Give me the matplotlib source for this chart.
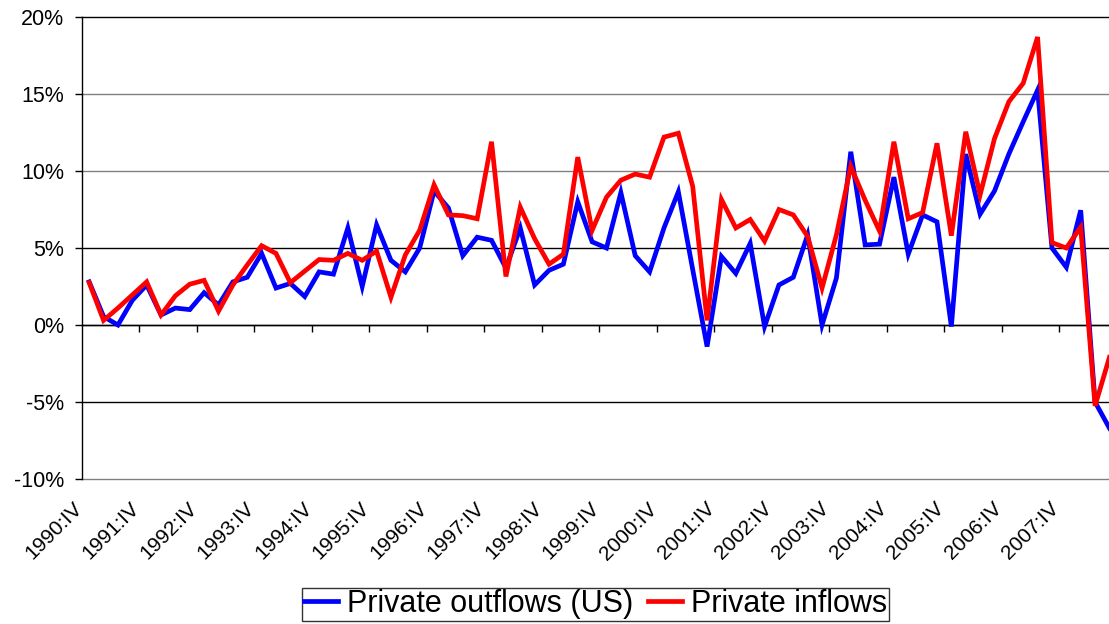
import numpy as np
import matplotlib
matplotlib.use('Agg')
import matplotlib.pyplot as plt
from matplotlib.transforms import ScaledTranslation

plt.rcParams['font.family'] = ['Liberation Sans', 'DejaVu Sans']

# quarterly growth, 1990:IV .. 2008:III (percent)
outflows = [2.8, 0.55, 0.0, 1.6, 2.6, 0.65, 1.1, 1.0, 2.1, 1.3,
            2.8, 3.1, 4.65, 2.4, 2.7, 1.85, 3.45, 3.3, 6.3, 2.5,
            6.5, 4.2, 3.45, 5.0, 8.7, 7.6, 4.5, 5.7, 5.5, 3.7,
            6.3, 2.6, 3.55, 3.95, 8.0, 5.4, 5.0, 8.6, 4.5, 3.45,
            6.3, 8.65, 3.6, -1.4, 4.45, 3.35, 5.3, -0.1, 2.6, 3.1,
            5.85, 0.0, 3.05, 11.25, 5.2, 5.25, 9.6, 4.6, 7.15, 6.7,
            -0.1, 11.1, 7.2, 8.7, 11.1, 13.2, 15.25, 5.0, 3.75, 7.45,
            -5.0, -6.7]
inflows = [2.75, 0.3, 1.1, 1.95, 2.8, 0.65, 1.9, 2.65, 2.9, 0.9,
           2.6, 3.9, 5.15, 4.65, 2.75, 3.5, 4.25, 4.2, 4.65, 4.2,
           4.8, 1.8, 4.55, 6.15, 9.1, 7.15, 7.1, 6.9, 11.9, 3.15,
           7.65, 5.6, 3.95, 4.6, 10.9, 6.15, 8.3, 9.4, 9.8, 9.6,
           12.2, 12.45, 9.0, 0.3, 8.15, 6.3, 6.85, 5.45, 7.5, 7.15,
           5.75, 2.4, 5.85, 10.3, 8.1, 6.1, 11.9, 6.9, 7.3, 11.8,
           5.8, 12.55, 8.45, 12.1, 14.5, 15.7, 18.7, 5.35, 5.0, 6.35,
           -5.25, -2.1]
tick_labels = ['1990:IV', '1991:IV', '1992:IV', '1993:IV', '1994:IV', '1995:IV',
               '1996:IV', '1997:IV', '1998:IV', '1999:IV', '2000:IV', '2001:IV',
               '2002:IV', '2003:IV', '2004:IV', '2005:IV', '2006:IV', '2007:IV']
y_ticks = [-10, -5, 0, 5, 10, 15, 20]

x = np.arange(len(outflows))

fig = plt.figure(figsize=(11.09, 6.24), dpi=100)
ax = fig.add_axes([82 / 1109, 145 / 624, 1 - 82 / 1109, 462 / 624])

ax.plot(x, outflows, color='#0000FF', lw=3.4, label='Private outflows (US)', solid_joinstyle='miter')
ax.plot(x, inflows, color='#FF0000', lw=3.4, label='Private inflows', solid_joinstyle='miter')

ax.set_xlim(-0.5, 70.97)
ax.set_ylim(-10, 20)

for v in y_ticks:
    c = '#808080' if v in (-10, 10, 15) else 'black'
    ax.axhline(v, color=c, lw=1.0, zorder=0, clip_on=False)

ax.set_yticks(y_ticks)
ax.set_yticklabels([f'{v}%' for v in y_ticks], fontsize=15.5)
ax.tick_params(axis='y', direction='out', length=5, width=1, pad=8)

ax.set_xticks(x[::4][:len(tick_labels)])
ax.set_xticklabels(tick_labels, fontsize=15, rotation=45, ha='right',
                   va='baseline', rotation_mode='anchor')
ax.tick_params(axis='x', length=0, pad=22)
shift = ScaledTranslation(-6 / 100, 0, fig.dpi_scale_trans)
for lab in ax.get_xticklabels():
    lab.set_transform(lab.get_transform() + shift)

for s in ['top', 'right', 'bottom']:
    ax.spines[s].set_visible(False)
ax.spines['left'].set_linewidth(1)

# category axis crossing at 0%
sec = ax.secondary_xaxis(1 / 3)
sec.set_xticks(np.arange(3.5, 70, 4))
sec.set_xticklabels([])
sec.tick_params(direction='out', length=5, width=1)
sec.spines['bottom'].set_linewidth(1)

leg = fig.legend(loc='center', bbox_to_anchor=(0.537, 0.032), ncol=2, fontsize=22,
                 frameon=True, fancybox=False, edgecolor='black', handlelength=1.1,
                 handletextpad=0.3, columnspacing=0.5, borderpad=0.05, borderaxespad=0)
leg.get_frame().set_linewidth(1)

fig.savefig('out.png', dpi=100)
